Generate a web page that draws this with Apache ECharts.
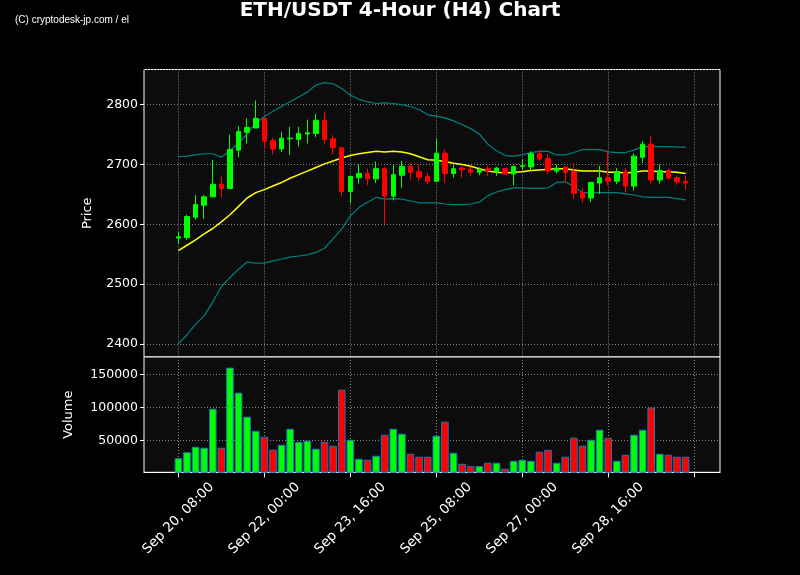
<!DOCTYPE html>
<html><head><meta charset="utf-8">
<script src="https://cdn.jsdelivr.net/npm/echarts@6/dist/echarts.min.js"></script>
<style>html,body{margin:0;padding:0;background:#000;}#c{width:800px;height:575px;}</style>
</head><body><div id="c"></div>
<script>
// ---- data ----
const startTime = Date.UTC(2024, 8, 20, 8, 0); // Sep 20, 08:00, 4-hour candles
const opens  = [2577,2578,2612,2632,2646,2667,2660,2724,2754,2761,2777,2740,2726,2743,2742,2751,2752,2774,2743,2728,2655,2678,2685,2676,2693,2647,2682,2697,2688,2680,2672,2719,2685,2694,2692,2687,2693,2688,2693,2684,2697,2696,2718,2710,2689,2696,2688,2653,2644,2669,2678,2672,2688,2664,2712,2734,2674,2690,2678,2672];
const closes = [2579,2613,2633,2646,2667,2660,2725,2755,2762,2777,2739,2726,2744,2744,2752,2753,2774,2742,2728,2655,2680,2685,2676,2693,2647,2683,2697,2687,2679,2672,2719,2685,2693,2691,2687,2692,2690,2694,2684,2697,2698,2718,2709,2689,2694,2687,2652,2644,2670,2678,2672,2688,2664,2714,2734,2674,2690,2677,2671,2669];
const lows   = [2567,2574,2608,2609,2645,2645,2660,2712,2735,2761,2726,2716,2721,2716,2730,2735,2746,2735,2717,2647,2635,2668,2665,2669,2601,2640,2661,2675,2672,2667,2672,2669,2678,2678,2681,2682,2680,2681,2683,2665,2690,2690,2706,2683,2685,2670,2643,2636,2637,2651,2665,2667,2653,2656,2703,2668,2668,2675,2666,2658];
const highs  = [2587,2616,2649,2649,2708,2680,2750,2764,2777,2807,2777,2745,2755,2763,2763,2775,2785,2788,2749,2730,2681,2700,2693,2705,2696,2700,2706,2703,2700,2686,2744,2725,2699,2697,2696,2695,2698,2696,2694,2697,2709,2722,2725,2718,2700,2696,2703,2661,2670,2698,2724,2694,2694,2719,2739,2748,2700,2694,2681,2681];
const volumes = [23600,32700,40900,39400,98500,39400,160600,122700,86400,65100,56000,36400,43900,68200,48500,50000,37900,48500,42400,127300,51500,22700,21200,27300,59100,68200,60600,30300,25800,25800,57600,78800,31800,15150,11600,11600,16700,16700,7600,19700,21200,19700,33300,36400,16700,25800,54500,42400,51500,66700,54500,19700,28800,59100,66700,100000,30300,28800,25800,25800];
const bbMiddle = [2556,2565,2574,2584,2593,2604,2616,2630,2644,2653,2658,2664,2670,2677,2683,2689,2695,2701,2706,2711,2715,2718,2720,2722,2721,2722,2721,2718,2713,2708,2707,2705,2702,2700,2697,2693,2689,2687,2686,2687,2688,2690,2691,2692,2693,2693,2691,2689,2689,2689,2687,2687,2686,2687,2689,2689,2688,2688,2687,2685];
const bbUpper = [2713,2714,2716,2718,2718,2712,2723,2736,2751,2770,2780,2789,2797,2805,2813,2821,2833,2837,2835,2827,2816,2809,2805,2802,2803,2802,2800,2797,2792,2783,2781,2778,2773,2767,2760,2751,2734,2723,2715,2714,2716,2720,2722,2722,2716,2716,2720,2725,2725,2725,2721,2720,2720,2724,2730,2730,2730,2730,2729,2729];
const bbLower = [2400,2415,2433,2447,2470,2496,2511,2525,2537,2535,2535,2539,2542,2545,2547,2549,2553,2560,2576,2592,2614,2628,2637,2645,2642,2643,2642,2639,2636,2636,2636,2634,2633,2633,2634,2637,2648,2654,2658,2661,2661,2660,2660,2661,2670,2671,2663,2653,2653,2653,2653,2653,2651,2649,2646,2645,2645,2645,2643,2641];
const padBefore = 4, padAfter = 4, labelEvery = 10;

// ---- build ----
const MONTHS = ['Jan','Feb','Mar','Apr','May','Jun','Jul','Aug','Sep','Oct','Nov','Dec'];
function fmt(t){const d=new Date(t);return MONTHS[d.getUTCMonth()]+' '+d.getUTCDate()+', '+String(d.getUTCHours()).padStart(2,'0')+':00';}
const H4 = 4*3600*1000;
const n = opens.length;
const cats = [];
for (let i=-padBefore;i<n+padAfter;i++) cats.push(fmt(startTime+i*H4));
const dates = cats.slice(padBefore, padBefore+n);
const isTick = (idx)=> (idx-padBefore)%labelEvery===0 && idx>=padBefore;
const isLabel = (idx)=> isTick(idx) && idx-padBefore < n;

const candleData = dates.map((d,i)=>[d,opens[i],closes[i],lows[i],highs[i]]);
const line = arr => dates.map((d,i)=>[d,arr[i]]);
const volData = dates.map((d,i)=>({value:[d,volumes[i]],itemStyle:{color: closes[i]>=opens[i]?'#00ff00':'#ff0000'}}));

const lo = Math.min(...bbLower, ...lows), hi = Math.max(...bbUpper, ...highs);
const pad = 0.05*(hi-lo);
const vMin = 0.3*Math.min(...volumes), vMax = 1.1*Math.max(...volumes);

const FONT = 'DejaVu Sans';
const gridLine = {show:true, lineStyle:{color:'#8a8a8a', type:[1,2], width:1}};
const chart = echarts.init(document.getElementById('c'), null, {renderer:'canvas'});
chart.setOption({
  backgroundColor:'#000',
  animation:false,
  title:[
    {text:'ETH/USDT 4-Hour (H4) Chart', left:'center', top:0, padding:[1,0,0,0],
     textStyle:{color:'#fff', fontFamily:FONT, fontWeight:'bold', fontSize:20}},
    {text:'(C) cryptodesk-jp.com / el', left:15, top:15, padding:0,
     textStyle:{color:'#fff', fontFamily:'Liberation Sans Narrow, Liberation Sans, sans-serif', fontWeight:'normal', fontSize:10}}
  ],
  grid:[
    {left:144, top:69.5, width:576, height:287.5, show:true, backgroundColor:'#0c0c0c', borderColor:'#fff', borderWidth:1},
    {left:144, top:357, width:576, height:115.3, show:true, backgroundColor:'#0c0c0c', borderColor:'#fff', borderWidth:1}
  ],
  xAxis:[
    {type:'category', gridIndex:0, data:cats, boundaryGap:false,
     axisLine:{show:false}, axisTick:{show:false}, axisLabel:{show:false},
     splitLine:{...gridLine, interval:(i)=>isTick(i)}},
    {type:'category', gridIndex:1, data:cats, boundaryGap:false,
     axisLine:{show:true, lineStyle:{color:'#fff'}},
     axisTick:{show:true, length:5, lineStyle:{color:'#fff'}, interval:(i)=>isTick(i)},
     axisLabel:{color:'#fff', fontFamily:FONT, fontSize:13.5, rotate:45, margin:46,
       align:'center', verticalAlign:'middle', interval:(i)=>isLabel(i)},
     splitLine:{...gridLine, interval:(i)=>isTick(i)}}
  ],
  yAxis:[
    {type:'value', gridIndex:0, min:lo-pad, max:hi+pad, minInterval:100, maxInterval:100,
     name:'Price', nameLocation:'middle', nameGap:50, nameRotate:90,
     nameTextStyle:{color:'#fff', fontFamily:FONT, fontSize:13},
     axisLine:{show:false}, axisTick:{show:true, length:4, lineStyle:{color:'#fff'}},
     axisLabel:{color:'#fff', fontFamily:FONT, fontSize:12.5, margin:6, showMinLabel:false, showMaxLabel:false,
       formatter:(v)=>String(Math.round(v))},
     splitLine:gridLine},
    {type:'value', gridIndex:1, min:vMin, max:vMax, minInterval:50000, maxInterval:50000,
     name:'Volume', nameLocation:'middle', nameGap:69, nameRotate:90,
     nameTextStyle:{color:'#fff', fontFamily:FONT, fontSize:13},
     axisLine:{show:false}, axisTick:{show:true, length:4, lineStyle:{color:'#fff'}},
     axisLabel:{color:'#fff', fontFamily:FONT, fontSize:12.5, margin:6, showMinLabel:false, showMaxLabel:false,
       formatter:(v)=>String(Math.round(v))},
     splitLine:gridLine}
  ],
  series:[
    {type:'line', xAxisIndex:0, yAxisIndex:0, data:line(bbUpper), symbol:'none', lineStyle:{color:'#008080', width:1.2}, z:2},
    {type:'line', xAxisIndex:0, yAxisIndex:0, data:line(bbLower), symbol:'none', lineStyle:{color:'#008080', width:1.2}, z:2},
    {type:'line', xAxisIndex:0, yAxisIndex:0, data:line(bbMiddle), symbol:'none', lineStyle:{color:'#ffff00', width:1.5}, z:2},
    {type:'candlestick', xAxisIndex:0, yAxisIndex:0, data:candleData, barWidth:5,
     encode:{x:0, y:[1,2,3,4]},
     itemStyle:{color:'#00ff00', color0:'#ff0000', borderColor:'#00ff00', borderColor0:'#ff0000', borderWidth:1}, z:3},
    {type:'bar', xAxisIndex:1, yAxisIndex:1, data:volData, barWidth:7.6,
     itemStyle:{borderColor:'#1f77b4', borderWidth:1}}
  ]
});
</script></body></html>
